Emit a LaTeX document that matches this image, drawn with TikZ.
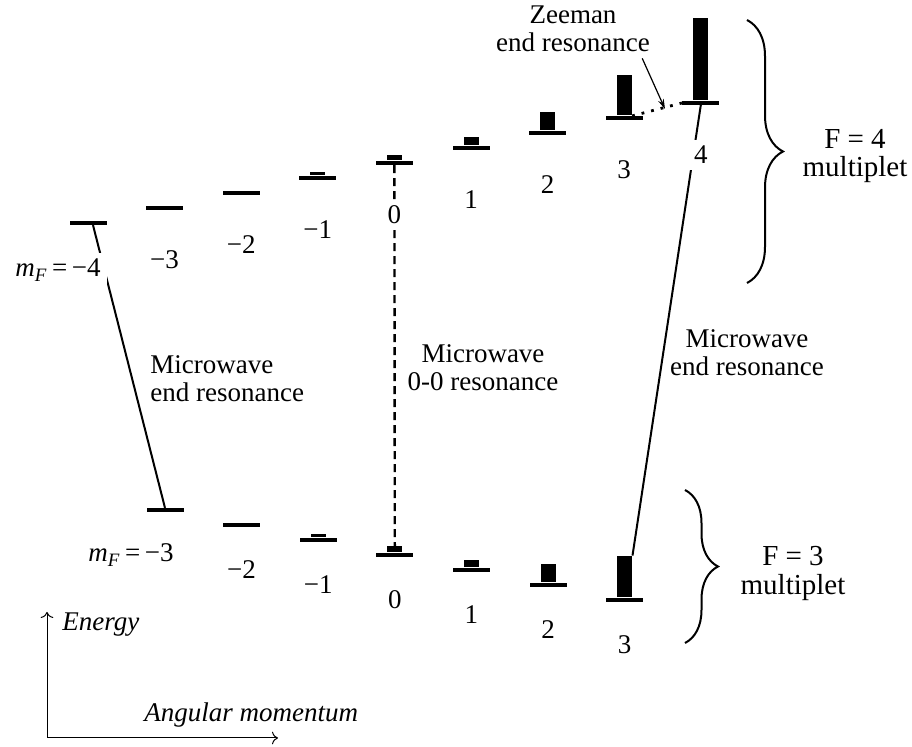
\documentclass[tikz,border=0pt]{standalone}
\usepackage{fontspec}
\setmainfont{Liberation Serif}
\usetikzlibrary{arrows.meta,decorations.pathreplacing}

\tikzset{
  lvl/.style={fill=black, minimum width=18.5pt, minimum height=1.7pt, inner sep=0pt},
  bar/.style={fill=black, minimum width=7.5pt, inner sep=0pt, anchor=south},
  num/.style={font=\fontsize{13.5}{16}\selectfont, inner sep=3pt, fill=white},
  txt/.style={font=\fontsize{13.5}{14}\selectfont, align=center, inner sep=0pt},
  brc/.style={decorate, decoration={brace, amplitude=#1}, line width=1pt},
}

\begin{document}
\begin{tikzpicture}[x=0.5pt, y=-0.5pt]
    \useasboundingbox (0,0) rectangle (912,747);
    % F = 4 and F = 3 levels
    \foreach \i in {0,...,8}
        \node[lvl] (u\i) at ({88+76.6*\i},{223-15*\i}) {};
    \foreach \i in {0,...,6}
        \node[lvl] (l\i) at ({165+76.6*\i},{510+15*\i}) {};
    % populations
    \foreach \i/\h in {3/1.8pt,4/2.6pt,5/4.25pt,6/9.25pt,7/20pt,8/41pt}
        \node[bar, minimum height=\h] (ub\i) at (u\i.north) {};
    \foreach \i/\h in {2/1.6pt,3/3pt,4/3.75pt,5/9.25pt,6/20.75pt}
        \node[bar, minimum height=\h] (lb\i) at (l\i.north) {};

    % transitions
    \draw[line width=1pt] ([xshift=2.5pt]u0.south) -- (l0.north);
    \draw[line width=1.2pt, dash pattern=on 4pt off 2.5pt] (u4.south) -- (lb3.north);
    \draw[line width=1pt] (u8.south) -- (lb6.north east);
    \draw[line width=1.4pt, dash pattern=on 1.4pt off 3.5pt] (ub7.south east) -- (u8.west);

    % m_F labels
    \foreach \i/\t in {1/−3,2/−2,3/−1,4/0,5/1,6/2,7/3,8/4}
        \node[num] (un\i) at ([yshift=-26pt]u\i) {\t};
    \node[num, anchor=east] (un0) at (107,270) {\textit{m}\textsubscript{\textit{F}}\,=\,−4};
    \foreach \i/\t in {1/−2,2/−1,3/0,4/1,5/2,6/3}
        \node[num] (ln\i) at ([yshift=-22.5pt]l\i) {\t};
    \node[num, anchor=east] (ln0) at (180,555) {\textit{m}\textsubscript{\textit{F}}\,=\,−3};

    % captions
    \node[txt] (zee) at (573,29) {Zeeman\\end resonance};
    \coordinate (zeetip) at (665,109);
    \draw[-{Stealth[length=5pt,width=3pt]}, line width=0.6pt] ([xshift=-4pt,yshift=-3pt]zee.south east) -- (zeetip);
    \node[txt, align=left, anchor=west] (mwl) at (150,379) {Microwave\\end resonance};
    \node[txt] (mwc) at (483,368) {Microwave\\0-0 resonance};
    \node[txt] (mwr) at (747,353) {Microwave\\end resonance};

    % multiplets
    \draw[brc=18pt] (747,20) -- (747,283);
    \draw[brc=16.5pt] (685,490) -- (685,643);
    \node[txt, font=\fontsize{14.5}{14}\selectfont] (f4) at (855,156) {F = 4\\multiplet};
    \node[txt, font=\fontsize{14.5}{14.5}\selectfont] (f3) at (793,573) {F = 3\\multiplet};

    % axes
    \coordinate (orig) at (47,738);
    \coordinate (ytip) at (47,612);
    \coordinate (xtip) at (278,738);
    \draw[-{To[length=3pt]}, line width=0.5pt] (orig) -- (ytip);
    \draw[-{To[length=3pt]}, line width=0.5pt] (orig) -- (xtip);
    \node[txt, font=\fontsize{13.5}{14}\selectfont\itshape, anchor=west] (en) at (62,625) {Energy};
    \node[txt, font=\fontsize{13.5}{14}\selectfont\itshape, anchor=west] (am) at (144,715) {Angular momentum};
\end{tikzpicture}
\end{document}
